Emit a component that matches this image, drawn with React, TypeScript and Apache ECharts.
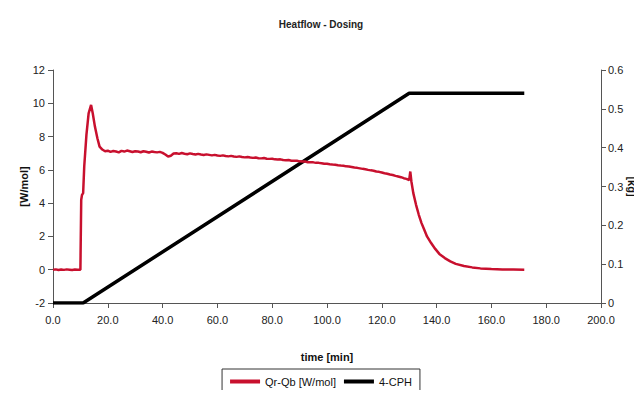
import React, { useEffect, useRef } from "react";
import * as echarts from "echarts";

const titleText = "Heatflow - Dosing";
const xTicks = { min: 0, max: 200, interval: 20 };
const leftTicks = { min: -2, max: 12, interval: 2 };
const rightTicks = { min: 0, max: 0.6, interval: 0.1 };

// Qr-Qb [W/mol] : [time min, value]
const heatflowStart: number[][] = [
  [0, 0], [1, 0.02], [2, -0.02], [3, 0.01], [4, -0.01], [5, 0.02], [6, 0], [7, -0.02], [8, 0.01], [9, 0], [10, 0], [10.2, 0],
  [10.3, 4.2], [10.6, 4.5], [11.0, 4.6], [11.4, 6.2], [12.2, 8.1], [13.0, 9.4], [13.9, 9.9], [14.5, 9.4],
  [15.3, 8.6], [16.2, 7.9], [17.0, 7.4],
];
const heatflowMid: number[][] = [
  [18, 7.22], [19, 7.12], [20, 7.15], [21, 7.08], [22, 7.13], [23, 7.1], [24, 7.05], [25, 7.14], [26, 7.1], [27, 7.16],
  [28, 7.12], [29, 7.07], [30, 7.12], [31, 7.1], [32, 7.06], [33, 7.12], [34, 7.09], [35, 7.04], [36, 7.1], [37, 7.07],
  [38, 7.05], [39, 7.08], [40, 7.02], [41, 6.92], [42, 6.8], [43, 6.85], [44, 6.98], [45, 7.0], [46, 6.96], [47, 7.01],
  [48, 6.97], [49, 6.94], [50, 6.99], [51, 6.95], [52, 6.92], [53, 6.96], [54, 6.92], [55, 6.89], [56, 6.93], [57, 6.9],
  [58, 6.87], [59, 6.9], [60, 6.86], [61, 6.84], [62, 6.87], [63, 6.83], [64, 6.81], [65, 6.84], [66, 6.8], [67, 6.78],
  [68, 6.81], [69, 6.77], [70, 6.75], [71, 6.77], [72, 6.74], [73, 6.72], [74, 6.74], [75, 6.7], [76, 6.69], [77, 6.71],
  [78, 6.67], [79, 6.66], [80, 6.67], [81, 6.63], [82, 6.62], [83, 6.63], [84, 6.59], [85, 6.58], [86, 6.59], [87, 6.55],
  [88, 6.54], [89, 6.55], [90, 6.51], [91, 6.5], [92, 6.5], [93, 6.46], [94, 6.46], [95, 6.45], [96, 6.42], [97, 6.42],
  [98, 6.4], [99, 6.37], [100, 6.37], [101, 6.34], [102, 6.32], [103, 6.31], [104, 6.28], [105, 6.26], [106, 6.25], [107, 6.21],
  [108, 6.2], [109, 6.17], [110, 6.14], [111, 6.12], [112, 6.09], [113, 6.06], [114, 6.04], [115, 6.0], [116, 5.97], [117, 5.95],
  [118, 5.9], [119, 5.88], [120, 5.84], [121, 5.8], [122, 5.77], [123, 5.72], [124, 5.69], [125, 5.64], [126, 5.6], [127, 5.56],
  [128, 5.5], [129, 5.46], [130, 5.38],
];
const heatflowEnd: number[][] = [
  [130.4, 5.9], [130.8, 5.3], [131.5, 4.6], [132.5, 3.9], [133.5, 3.3], [134.5, 2.8], [135.5, 2.4], [136.5, 2.0],
  [138, 1.6], [139.5, 1.25], [141, 0.95], [143, 0.7], [145, 0.5], [147, 0.35], [150, 0.22], [153, 0.14], [156, 0.08],
  [160, 0.04], [164, 0.02], [168, 0.01], [172, 0],
];

// 4-CPH [kg] : [time min, value]
const cphData: number[][] = [
  [0, 0], [11, 0], [130, 0.54], [172, 0.54],
];

const seriesNames = ["Qr-Qb [W/mol]", "4-CPH"];

export default function App() {
  const ref = useRef<HTMLDivElement>(null);
  useEffect(() => {
    if (!ref.current) return;
    const chart = echarts.init(ref.current, undefined, { renderer: "svg" });
    const font = "'Liberation Sans', Arial, sans-serif";
    const axisLine = { show: true, onZero: false, lineStyle: { color: "#555", width: 1 } };
    const axisTick = { show: true, inside: false, length: 5, lineStyle: { color: "#555" } };
    chart.setOption({
      animation: false,
      backgroundColor: "#fff",
      textStyle: { fontFamily: font },
      title: {
        text: titleText,
        left: "center",
        top: 14,
        textStyle: { fontSize: 10, fontWeight: "bold", color: "#222", fontFamily: font },
      },
      grid: { left: 53, right: 41, top: 70, bottom: 95, containLabel: false, outerBoundsMode: "none" },
      legend: {
        data: seriesNames,
        top: 369,
        left: "center",
        icon: "rect",
        itemWidth: 30,
        itemHeight: 4,
        itemGap: 8,
        borderColor: "#333",
        borderWidth: 1,
        borderRadius: 0,
        padding: [7, 8, 10, 8],
        textStyle: { fontSize: 11, color: "#111", fontFamily: font },
      },
      xAxis: {
        type: "value",
        min: xTicks.min,
        max: xTicks.max,
        interval: xTicks.interval,
        name: "time [min]",
        nameLocation: "middle",
        nameGap: 48,
        nameMoveOverlap: false,
        nameTextStyle: { fontSize: 11, fontWeight: "bold", color: "#111" },
        axisLine,
        axisTick,
        splitLine: { show: false },
        axisLabel: { fontSize: 11, color: "#222", margin: 11, formatter: (v: number) => v.toFixed(1) },
      },
      yAxis: [
        {
          type: "value",
          position: "left",
          min: leftTicks.min,
          max: leftTicks.max,
          interval: leftTicks.interval,
          name: "[W/mol]",
          nameLocation: "middle",
          nameGap: 24,
          nameRotate: 90,
          nameMoveOverlap: false,
          nameTextStyle: { fontSize: 11, fontWeight: "bold", color: "#111" },
          axisLine,
          axisTick,
          splitLine: { show: false },
          axisLabel: { fontSize: 11, color: "#222", margin: 8 },
        },
        {
          type: "value",
          position: "right",
          min: rightTicks.min,
          max: rightTicks.max,
          interval: rightTicks.interval,
          name: "[kg]",
          nameLocation: "middle",
          nameGap: 25,
          nameRotate: -90,
          nameMoveOverlap: false,
          nameTextStyle: { fontSize: 11, fontWeight: "bold", color: "#111" },
          axisLine,
          axisTick,
          splitLine: { show: false },
          axisLabel: {
            fontSize: 11,
            color: "#222",
            margin: 7,
            formatter: (v: number) => (v === 0 ? "0" : v.toFixed(1)),
          },
        },
      ],
      series: [
        {
          name: seriesNames[0],
          type: "line",
          yAxisIndex: 0,
          data: [...heatflowStart, ...heatflowMid, ...heatflowEnd],
          showSymbol: false,
          symbol: "none",
          lineStyle: { color: "#C8102E", width: 2.5 },
          itemStyle: { color: "#C8102E" },
          z: 3,
        },
        {
          name: seriesNames[1],
          type: "line",
          yAxisIndex: 1,
          data: cphData,
          showSymbol: false,
          symbol: "none",
          lineStyle: { color: "#000", width: 3.5 },
          itemStyle: { color: "#000" },
          z: 2,
        },
      ],
    });
    return () => chart.dispose();
  }, []);
  return <div ref={ref} style={{ width: 642, height: 398, margin: -8 }} />;
}
